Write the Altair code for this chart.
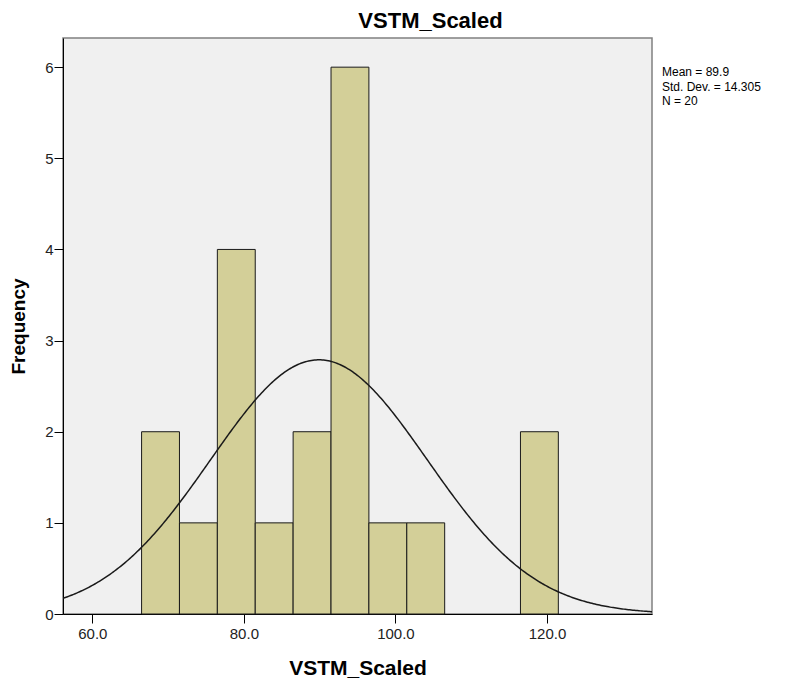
import altair as alt
import pandas as pd

# Histogram data (bin width 5)
bin_starts = [66.5, 71.5, 76.5, 81.5, 86.5, 91.5, 96.5, 101.5, 106.5, 111.5, 116.5]
counts = [2, 1, 4, 1, 2, 6, 1, 1, 0, 0, 2]
bin_width = 5
mean_val = 89.9
sd_val = 14.305
n_val = 20
x_ticks = [60, 80, 100, 120]
y_ticks = [0, 1, 2, 3, 4, 5, 6]

x_domain = [56.13, 133.86]
y_domain = [0, 6.32]

W, H = 589, 576
FONT = "Liberation Sans"

bars_df = pd.DataFrame({
    "start": bin_starts,
    "end": [b + bin_width for b in bin_starts],
    "count": counts,
    "base": [0] * len(bin_starts),
})

xs = alt.Scale(domain=x_domain, nice=False, zero=False)
ys = alt.Scale(domain=y_domain, nice=False, zero=True)

bars = alt.Chart(bars_df).transform_filter("datum.count > 0").mark_rect(
    fill="#D3CF98", stroke="#1a1a1a", strokeWidth=1
).encode(
    x=alt.X("start:Q", scale=xs,
            axis=alt.Axis(values=x_ticks, format=".1f", title="VSTM_Scaled",
                          grid=False, domainColor="#000", tickColor="#000",
                          tickSize=9, labelFontSize=15, labelColor="#222",
                          labelFont=FONT, titleFont=FONT, titleFontSize=21,
                          titleFontWeight="bold", titleColor="#000",
                          labelPadding=3, titlePadding=16)),
    x2="end:Q",
    y=alt.Y("count:Q", scale=ys,
            axis=alt.Axis(values=y_ticks, format="d", title="Frequency",
                          grid=False, domainColor="#000", tickColor="#000",
                          tickSize=9, labelFontSize=15, labelColor="#222",
                          labelFont=FONT, titleFont=FONT, titleFontSize=19,
                          titleFontWeight="bold", titleColor="#000",
                          labelPadding=1, titlePadding=16)),
    y2="base:Q",
)

scale_factor = n_val * bin_width
curve = alt.Chart(
    alt.sequence(start=x_domain[0], stop=x_domain[1] + 0.2, step=0.2, as_="x")
).transform_calculate(
    y=f"{scale_factor} / ({sd_val} * sqrt(2*PI)) * exp(-0.5 * pow((datum.x - {mean_val}) / {sd_val}, 2))"
).mark_line(color="#1a1a1a", strokeWidth=1.5, clip=True).encode(
    x=alt.X("x:Q", scale=xs),
    y=alt.Y("y:Q", scale=ys),
)

stats_df = pd.DataFrame({"t": [f"Mean = {mean_val}\nStd. Dev. = {sd_val}\nN = {n_val}"]})
stats = alt.Chart(stats_df).mark_text(
    align="left", baseline="top", font=FONT, fontSize=12, color="#000",
    lineBreak="\n", lineHeight=14.5
).encode(
    x=alt.value(W + 10),
    y=alt.value(29),
    text="t:N",
)

chart = alt.layer(bars, curve, stats).properties(
    width=W, height=H,
    title=alt.Title("VSTM_Scaled", font=FONT, fontSize=22, fontWeight="bold",
                    color="#000", anchor="middle", offset=5, dx=73),
    autosize=alt.AutoSizeParams(type="none"),
    padding={"left": 55, "top": 30, "right": 130, "bottom": 69},
    background="white",
).configure_view(
    fill="#F0F0F0", stroke="#808080", strokeWidth=1.5
)

chart.save("out.html", embed_options={"renderer": "svg", "actions": False})
